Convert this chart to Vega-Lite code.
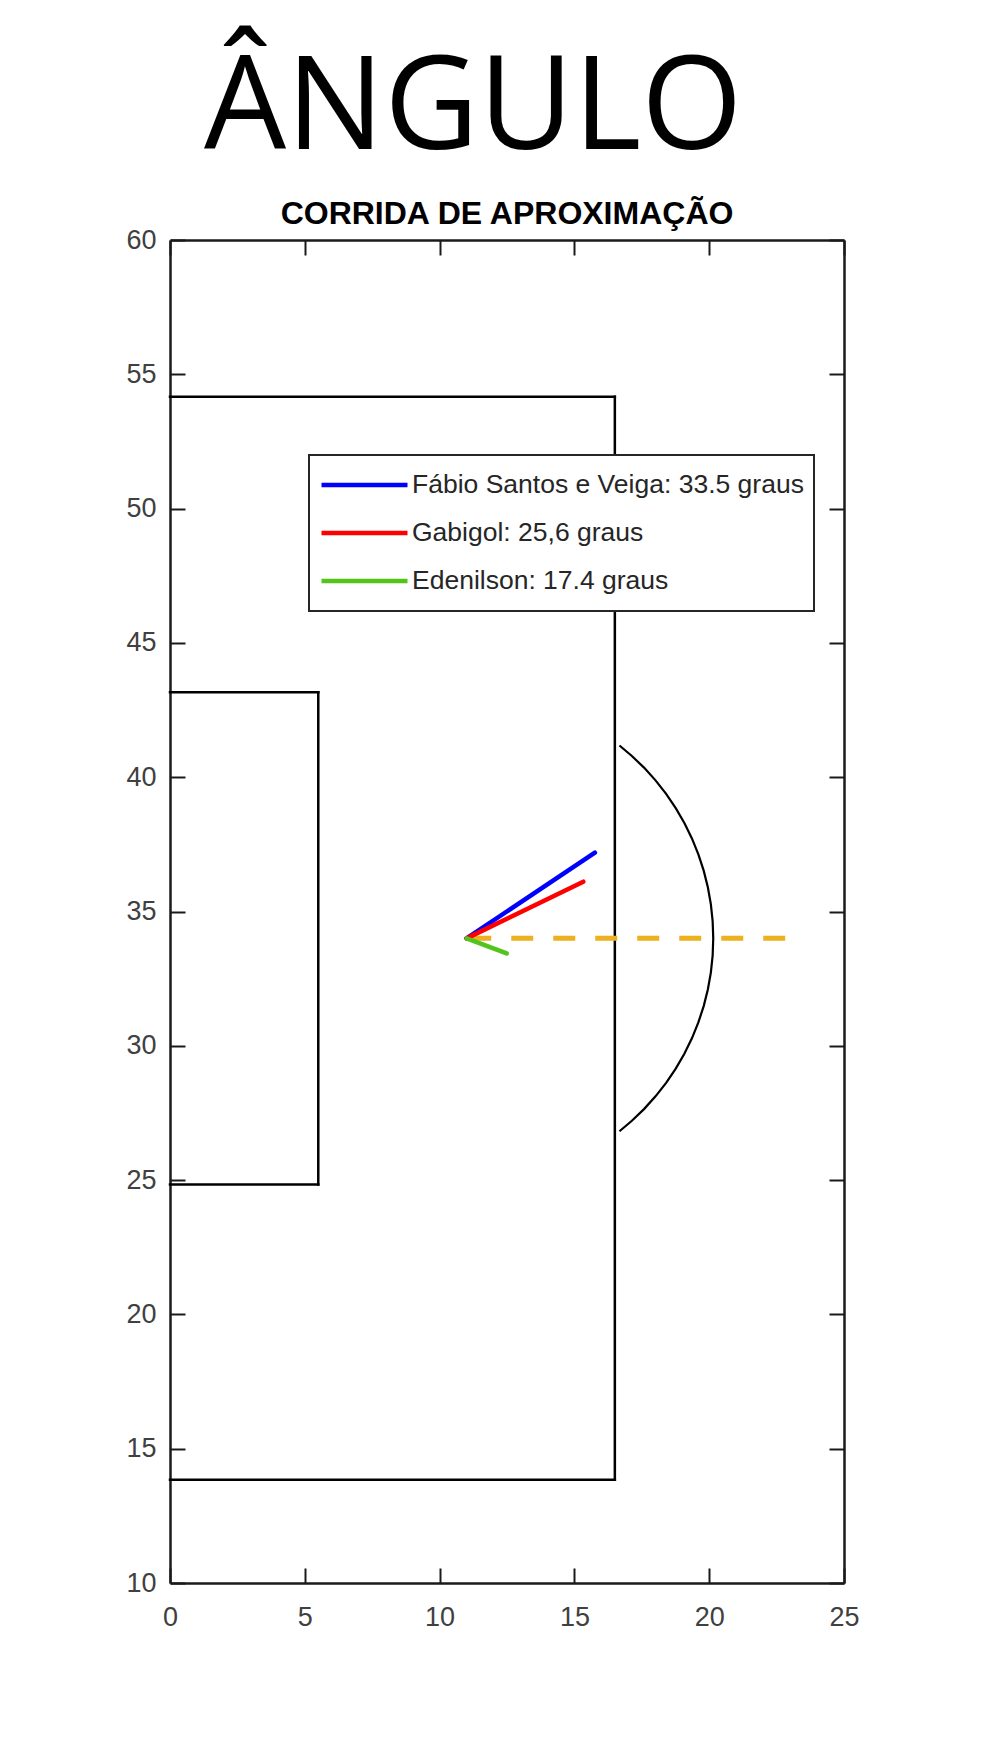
{
  "$schema": "https://vega.github.io/schema/vega-lite/v6.json",
  "width": 674,
  "height": 1343,
  "autosize": "none",
  "padding": {"left": 170, "top": 240, "right": 140, "bottom": 159},
  "title": {
    "text": "ÂNGULO\u00a0\u00a0\u200b",
    "subtitle": "CORRIDA DE APROXIMAÇÃO",
    "anchor": "middle",
    "frame": "group",
    "font": "Open Sans",
    "fontSize": 130,
    "fontWeight": "normal",
    "color": "black",
    "subtitleFont": "Liberation Sans",
    "subtitleFontSize": 32,
    "subtitleFontWeight": "bold",
    "subtitleColor": "black",
    "subtitlePadding": 23,
    "offset": -5
  },
  "datasets": {
    "pitch": [
      {"x": 0, "y": 54.16, "x2": 16.5, "y2": 54.16},
      {"x": 16.5, "y": 54.16, "x2": 16.5, "y2": 13.84},
      {"x": 0, "y": 13.84, "x2": 16.5, "y2": 13.84},
      {"x": 0, "y": 43.16, "x2": 5.5, "y2": 43.16},
      {"x": 5.5, "y": 43.16, "x2": 5.5, "y2": 24.84},
      {"x": 0, "y": 24.84, "x2": 5.5, "y2": 24.84}
    ],
    "arc": [
      {"i": 0, "x": 16.671, "y": 41.181},
      {"i": 1, "x": 17.122, "y": 40.8},
      {"i": 2, "x": 17.582, "y": 40.357},
      {"i": 3, "x": 18.009, "y": 39.882},
      {"i": 4, "x": 18.402, "y": 39.378},
      {"i": 5, "x": 18.759, "y": 38.849},
      {"i": 6, "x": 19.079, "y": 38.296},
      {"i": 7, "x": 19.359, "y": 37.721},
      {"i": 8, "x": 19.598, "y": 37.129},
      {"i": 9, "x": 19.796, "y": 36.522},
      {"i": 10, "x": 19.95, "y": 35.902},
      {"i": 11, "x": 20.061, "y": 35.274},
      {"i": 12, "x": 20.128, "y": 34.638},
      {"i": 13, "x": 20.15, "y": 34.0},
      {"i": 14, "x": 20.128, "y": 33.362},
      {"i": 15, "x": 20.061, "y": 32.726},
      {"i": 16, "x": 19.95, "y": 32.098},
      {"i": 17, "x": 19.796, "y": 31.478},
      {"i": 18, "x": 19.598, "y": 30.871},
      {"i": 19, "x": 19.359, "y": 30.279},
      {"i": 20, "x": 19.079, "y": 29.704},
      {"i": 21, "x": 18.759, "y": 29.151},
      {"i": 22, "x": 18.402, "y": 28.622},
      {"i": 23, "x": 18.009, "y": 28.118},
      {"i": 24, "x": 17.582, "y": 27.643},
      {"i": 25, "x": 17.122, "y": 27.2},
      {"i": 26, "x": 16.671, "y": 26.819}
    ],
    "ref": [
      {"x": 11.1, "y": 34, "x2": 23.1, "y2": 34}
    ],
    "players": [
      {"jogador": "Fábio Santos e Veiga: 33.5 graus", "x": 11, "y": 34, "x2": 15.76, "y2": 37.19},
      {"jogador": "Gabigol: 25,6 graus", "x": 11, "y": 34, "x2": 15.33, "y2": 36.11},
      {"jogador": "Edenilson: 17.4 graus", "x": 11, "y": 34, "x2": 12.49, "y2": 33.44}
    ]
  },
  "layer": [
    {
      "data": {"name": "pitch"},
      "mark": {"type": "rule", "color": "black", "strokeWidth": 2.5, "strokeCap": "square"},
      "encoding": {
        "x": {"field": "x", "type": "quantitative", "scale": {"domain": [0, 25], "nice": false, "zero": false},
              "axis": {"orient": "bottom", "title": null, "values": [0, 5, 10, 15, 20, 25], "labelPadding": 36, "labelFlush": false}},
        "x2": {"field": "x2"},
        "y": {"field": "y", "type": "quantitative", "scale": {"domain": [10, 60], "nice": false, "zero": false},
              "axis": {"orient": "left", "title": null, "values": [10, 15, 20, 25, 30, 35, 40, 45, 50, 55, 60], "labelPadding": 29, "labelFlush": false}},
        "y2": {"field": "y2"}
      }
    },
    {
      "data": {"name": "arc"},
      "mark": {"type": "line", "color": "black", "strokeWidth": 2.2},
      "encoding": {
        "x": {"field": "x", "type": "quantitative", "scale": {"domain": [0, 25], "nice": false, "zero": false}, "axis": null},
        "y": {"field": "y", "type": "quantitative", "scale": {"domain": [10, 60], "nice": false, "zero": false}, "axis": null},
        "order": {"field": "i"}
      }
    },
    {
      "data": {"name": "ref"},
      "mark": {"type": "rule", "color": "#EDB120", "strokeWidth": 5, "strokeDash": [22, 20]},
      "encoding": {
        "x": {"field": "x", "type": "quantitative", "scale": {"domain": [0, 25], "nice": false, "zero": false},
              "axis": {"orient": "top", "title": null, "labels": false, "values": [0, 5, 10, 15, 20, 25]}},
        "x2": {"field": "x2"},
        "y": {"field": "y", "type": "quantitative", "scale": {"domain": [10, 60], "nice": false, "zero": false},
              "axis": {"orient": "right", "title": null, "labels": false, "values": [10, 15, 20, 25, 30, 35, 40, 45, 50, 55, 60]}},
        "y2": {"field": "y2"}
      }
    },
    {
      "data": {"name": "players"},
      "mark": {"type": "rule", "strokeWidth": 4.5, "strokeCap": "round"},
      "encoding": {
        "x": {"field": "x", "type": "quantitative", "scale": {"domain": [0, 25], "nice": false, "zero": false}, "axis": null},
        "x2": {"field": "x2"},
        "y": {"field": "y", "type": "quantitative", "scale": {"domain": [10, 60], "nice": false, "zero": false}, "axis": null},
        "y2": {"field": "y2"},
        "color": {
          "field": "jogador",
          "type": "nominal",
          "scale": {
            "domain": ["Fábio Santos e Veiga: 33.5 graus", "Gabigol: 25,6 graus", "Edenilson: 17.4 graus"],
            "range": ["#0000ff", "#ff0000", "#52c41a"]
          },
          "legend": {
            "title": null,
            "orient": "none",
            "legendX": 139,
            "legendY": 215,
            "symbolType": "stroke",
            "symbolSize": 7396,
            "symbolStrokeWidth": 4.5,
            "labelFont": "Liberation Sans",
            "labelFontSize": 26.5,
            "labelColor": "#262626",
            "labelOffset": 2,
            "labelLimit": 600,
            "padding": 10,
            "rowPadding": 8,
            "clipHeight": 40,
            "strokeColor": "#262626",
            "fillColor": "white",
            "encode": {"legend": {"update": {"strokeWidth": {"value": 2}}}}
          }
        }
      }
    }
  ],
  "resolve": {"axis": {"x": "independent", "y": "independent"}},
  "config": {
    "view": {"stroke": null},
    "axis": {
      "grid": false,
      "domainColor": "#1a1a1a",
      "domainWidth": 2.5,
      "tickColor": "#1a1a1a",
      "tickWidth": 2,
      "tickSize": -15,
      "labelFont": "Liberation Sans",
      "labelFontSize": 27,
      "labelColor": "#404040"
    }
  }
}
